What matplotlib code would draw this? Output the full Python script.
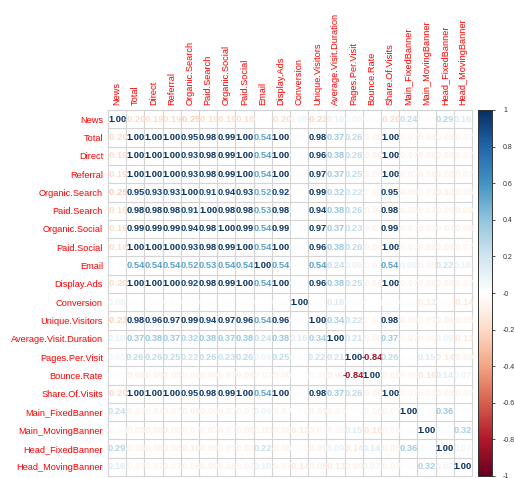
import matplotlib
matplotlib.use('Agg')
import matplotlib.pyplot as plt
import numpy as np
from matplotlib.colors import LinearSegmentedColormap, Normalize
from matplotlib.cm import ScalarMappable

plt.rcParams['font.family'] = ['Liberation Sans', 'DejaVu Sans']

names = ["News", "Total", "Direct", "Referral", "Organic.Search", "Paid.Search",
         "Organic.Social", "Paid.Social", "Email", "Display.Ads", "Conversion",
         "Unique.Visitors", "Average.Visit.Duration", "Pages.Per.Visit", "Bounce.Rate",
         "Share.Of.Visits", "Main_FixedBanner", "Main_MovingBanner",
         "Head_FixedBanner", "Head_MovingBanner"]

# upper triangle of the correlation matrix, row by row (diagonal excluded)
upper = [
    [-0.20, -0.19, -0.19, -0.25, -0.19, -0.19, -0.18, -0.03, -0.20, 0.08, -0.23, 0.10, 0.06, 0.01, -0.20, 0.24, -0.04, 0.29, 0.16],
    [1.00, 1.00, 0.95, 0.98, 0.99, 1.00, 0.54, 1.00, 0.01, 0.98, 0.37, 0.26, -0.08, 1.00, -0.07, -0.08, -0.08, -0.07],
    [1.00, 0.93, 0.98, 0.99, 1.00, 0.54, 1.00, 0.01, 0.96, 0.38, 0.26, -0.09, 1.00, -0.07, -0.08, -0.08, -0.07],
    [0.93, 0.98, 0.99, 1.00, 0.54, 1.00, 0.01, 0.97, 0.37, 0.25, -0.08, 1.00, -0.07, -0.08, -0.08, -0.07],
    [0.91, 0.94, 0.93, 0.52, 0.92, 0.00, 0.99, 0.32, 0.22, -0.06, 0.95, -0.09, -0.07, -0.10, -0.08],
    [0.98, 0.98, 0.53, 0.98, 0.01, 0.94, 0.38, 0.26, -0.09, 0.98, -0.08, -0.07, -0.09, -0.09],
    [0.99, 0.54, 0.99, 0.01, 0.97, 0.37, 0.23, -0.07, 0.99, -0.07, -0.07, -0.07, -0.08],
    [0.54, 1.00, 0.01, 0.96, 0.38, 0.26, -0.09, 1.00, -0.07, -0.08, -0.08, -0.07],
    [0.54, 0.00, 0.54, 0.24, 0.09, -0.07, 0.54, 0.09, -0.08, 0.22, 0.10],
    [0.01, 0.96, 0.38, 0.25, -0.08, 1.00, -0.07, -0.08, -0.08, -0.07],
    [0.01, 0.16, 0.02, -0.01, 0.01, 0.02, -0.12, 0.01, -0.14],
    [0.34, 0.22, -0.06, 0.98, -0.09, -0.07, -0.09, -0.08],
    [0.21, -0.08, 0.37, -0.07, -0.06, 0.09, -0.13],
    [-0.84, 0.26, 0.01, 0.15, -0.14, -0.09],
    [-0.09, -0.06, -0.16, 0.14, 0.07],
    [-0.07, -0.06, -0.08, -0.07],
    [0.01, 0.36, 0.02],
    [0.02, 0.32],
    [0.07],
]

n = len(names)
corr = np.eye(n)
for i, row in enumerate(upper):
    for k, v in enumerate(row):
        j = i + 1 + k
        corr[i, j] = corr[j, i] = v

col2 = ["#67001F", "#B2182B", "#D6604D", "#F4A582", "#FDDBC7", "#FFFFFF",
        "#D1E5F0", "#92C5DE", "#4393C3", "#2166AC", "#053061"]
cmap = LinearSegmentedColormap.from_list('rdbu200', col2, N=200)
norm = Normalize(-1, 1)

W, H = 514, 478
fig = plt.figure(figsize=(W / 100, H / 100), dpi=100)
ax = fig.add_axes([108 / W, 2 / H, 364 / W, 366 / H])
ax.set_xlim(0, n)
ax.set_ylim(n, 0)

# cell borders
for k in range(n + 1):
    ax.plot([0, n], [k, k], color='#d4d4d4', lw=0.8, clip_on=False, zorder=1)
    ax.plot([k, k], [0, n], color='#d4d4d4', lw=0.8, clip_on=False, zorder=1)

for i in range(n):
    for j in range(n):
        v = corr[i, j]
        ax.text(j + 0.5, i + 0.5, f'{v:.2f}', color=cmap(norm(v)),
                ha='center', va='center', fontsize=6.7, fontweight='bold', zorder=2)

ax.set_xticks(np.arange(n) + 0.5)
ax.set_xticklabels(names, rotation=90, color='red', fontsize=6.7)
ax.xaxis.tick_top()
ax.set_yticks(np.arange(n) + 0.5)
ax.set_yticklabels(names, color='red', fontsize=6.7)
ax.tick_params(length=0, pad=3.6)
for s in ax.spines.values():
    s.set_visible(False)

# colour legend
cax = fig.add_axes([478 / W, 2 / H, 14 / W, 366 / H])
cb = fig.colorbar(ScalarMappable(norm=norm, cmap=cmap), cax=cax)
ticks = np.round(np.arange(-1, 1.01, 0.2), 1)
cb.set_ticks(ticks)
cb.set_ticklabels([f'{t:g}' for t in ticks])
cb.outline.set_linewidth(0.7)
cb.outline.set_edgecolor('#333333')
cax.tick_params(labelsize=5, length=2.5, width=0.6, pad=5.5, colors='#333333')

fig.savefig('out.png', dpi=100)
